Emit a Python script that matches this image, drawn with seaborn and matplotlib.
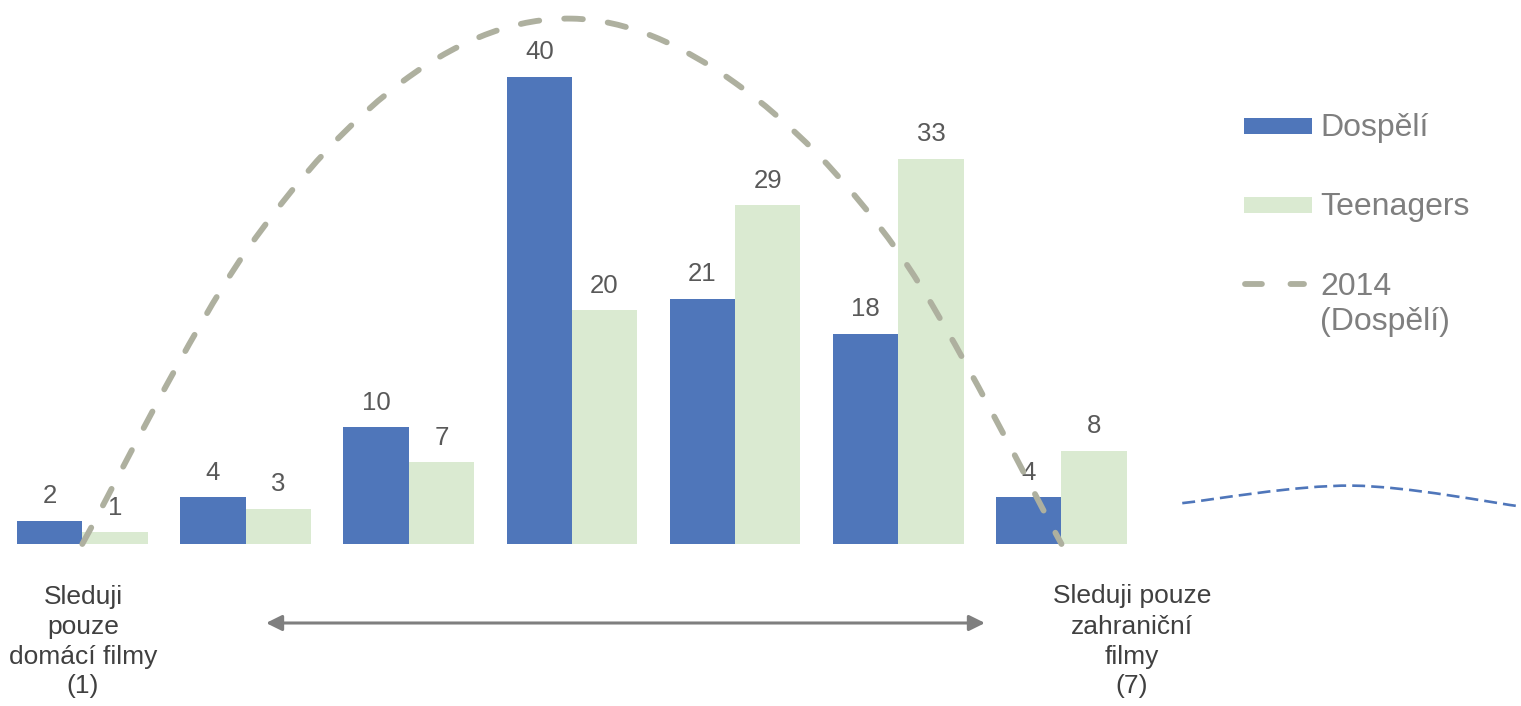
import numpy as np
import pandas as pd
import seaborn as sns
import matplotlib
matplotlib.use("Agg")
import matplotlib.pyplot as plt
from matplotlib.path import Path
from matplotlib.patches import PathPatch, Rectangle, FancyArrowPatch
from matplotlib.lines import Line2D

# --- data -------------------------------------------------------------
categories = ["1", "2", "3", "4", "5", "6", "7"]
adults = [2, 4, 10, 40, 21, 18, 4]
teens = [1, 3, 7, 20, 29, 33, 8]
adults_2014 = [0, 25, 40, 45, 39.5, 25, 0]
series_names = ["Dospělí", "Teenagers"]
line_name = ["2014", "(Dospělí)"]
wave_x = [6.74, 7.78, 8.82]
wave_y = [3.5, 5.0, 3.2]
left_label = ["Sleduji", "pouze", "domácí filmy", "(1)"]
right_label = ["Sleduji pouze", "zahraniční", "filmy", "(7)"]

BLUE = "#4F76BA"
GREEN = "#DAEAD1"
CURVE = "#AEB09F"
LABEL_GREY = "#595959"
LEGEND_GREY = "#7F7F7F"
TEXT_DARK = "#404040"
CURVE_DASH = (0, (3.2, 4.3))

W, H = 1521, 706

sns.set_theme(style="white")
plt.rcParams["font.family"] = ["Liberation Sans", "DejaVu Sans"]

fig = plt.figure(figsize=(W / 100, H / 100), dpi=100)
ax = fig.add_axes([0, 0, 1, 1])


def fx(px):
    return px / W


def fy(py):
    return 1 - py / H


def smooth_path(xs, ys):
    """Smoothed line through the points, as cubic Bezier segments."""
    pts = np.column_stack([xs, ys]).astype(float)
    verts, codes = [pts[0]], [Path.MOVETO]
    n = len(pts)
    for i in range(n - 1):
        p0 = pts[max(i - 1, 0)]
        p1, p2 = pts[i], pts[i + 1]
        p3 = pts[min(i + 2, n - 1)]
        verts += [p1 + (p2 - p0) / 6, p2 - (p3 - p1) / 6, p2]
        codes += [Path.CURVE4] * 3
    return Path(verts, codes)


# --- bars -------------------------------------------------------------
df = pd.DataFrame({
    "kategorie": categories * 2,
    "podil": adults + teens,
    "skupina": [series_names[0]] * len(adults) + [series_names[1]] * len(teens),
})
sns.barplot(data=df, x="kategorie", y="podil", hue="skupina",
            order=categories, hue_order=series_names,
            palette=[BLUE, GREEN], saturation=1, width=0.8,
            linewidth=0, errorbar=None, legend=False, ax=ax)

for cont in ax.containers:
    ax.bar_label(cont, fmt="%g", padding=9, fontsize=18.5, color=LABEL_GREY)

# --- 2014 smoothed line -------------------------------------------------
ax.add_patch(PathPatch(smooth_path(range(len(adults_2014)), adults_2014),
                       fill=False, edgecolor=CURVE, lw=4.2,
                       linestyle=CURVE_DASH, capstyle="round", zorder=4))

# thin blue dashed arc on the right
ax.add_patch(PathPatch(smooth_path(wave_x, wave_y), fill=False,
                       edgecolor=BLUE, lw=1.9, linestyle=(0, (4.9, 2.3)),
                       capstyle="butt", zorder=4))

ax.set_xlim(-0.5043, 8.8156)
ax.set_ylim(-13.876, 46.595)
ax.set_axis_off()

# --- legend -----------------------------------------------------------
fig.add_artist(Rectangle((fx(1244), fy(134)), 68 / W, 16 / H,
                         transform=fig.transFigure, color=BLUE, lw=0))
fig.add_artist(Rectangle((fx(1244), fy(213)), 68 / W, 16 / H,
                         transform=fig.transFigure, color=GREEN, lw=0))
fig.add_artist(Line2D([fx(1244.5), fx(1303.5)], [fy(284), fy(284)],
                      transform=fig.transFigure, color=CURVE, lw=4.2,
                      linestyle=(0, (2.9, 4.9)), dash_capstyle="round"))
fig.text(fx(1320), fy(136), series_names[0], fontsize=23, color=LEGEND_GREY,
         ha="left", va="baseline")
fig.text(fx(1320), fy(215), series_names[1], fontsize=23, color=LEGEND_GREY,
         ha="left", va="baseline")
fig.text(fx(1320), fy(295), line_name[0], fontsize=23, color=LEGEND_GREY,
         ha="left", va="baseline")
fig.text(fx(1320), fy(330), line_name[1], fontsize=23, color=LEGEND_GREY,
         ha="left", va="baseline")

# --- scale ends and arrow ---------------------------------------------
for line, base in zip(left_label, [604, 634, 664, 693]):
    fig.text(fx(83), fy(base), line, fontsize=19, color=TEXT_DARK,
             ha="center", va="baseline")
for line, base in zip(right_label, [603, 634, 664, 693]):
    fig.text(fx(1132), fy(base), line, fontsize=19, color=TEXT_DARK,
             ha="center", va="baseline")

fig.add_artist(FancyArrowPatch((fx(266), fy(623)), (fx(985), fy(623)),
                               transform=fig.transFigure,
                               arrowstyle="<|-|>,head_length=0.95,head_width=0.47",
                               mutation_scale=10, color=LEGEND_GREY, lw=2.2,
                               shrinkA=0, shrinkB=0))

fig.savefig("out.png", dpi=100, facecolor="white")
